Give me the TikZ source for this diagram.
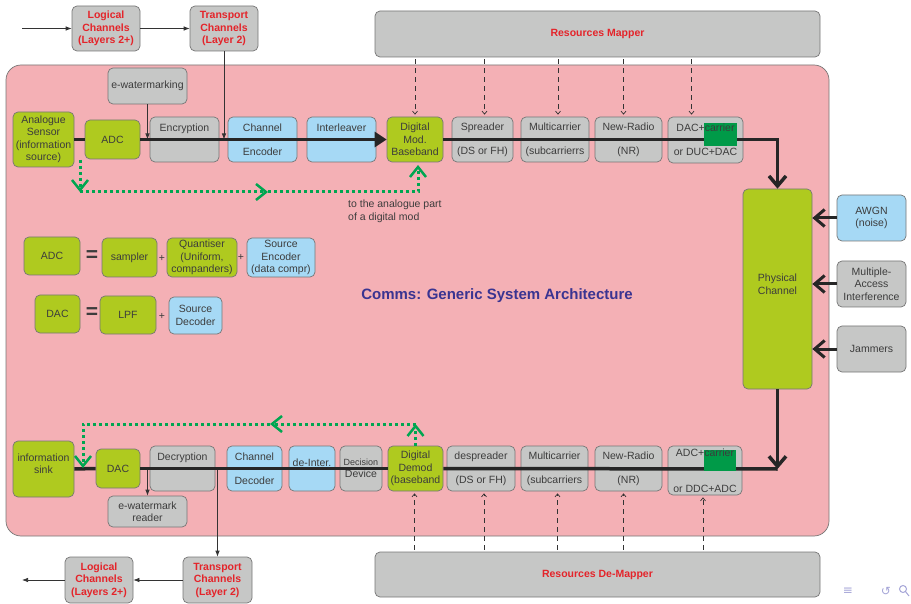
\documentclass[tikz,border=0pt]{standalone}
\usepackage{fontspec}
\setmainfont{Liberation Sans}
\newfontfamily\navfont{DejaVu Sans}
\usetikzlibrary{arrows.meta, positioning, calc}

\definecolor{pinkbg}{RGB}{244,176,181}
\definecolor{boxgray}{RGB}{198,199,198}
\definecolor{boxgreen}{RGB}{175,202,31}
\definecolor{boxblue}{RGB}{166,217,245}
\definecolor{edgegray}{RGB}{118,118,118}
\definecolor{txtgray}{RGB}{60,60,60}
\definecolor{labred}{RGB}{228,36,42}
\definecolor{titleblue}{RGB}{58,52,145}
\definecolor{hlgreen}{RGB}{0,154,72}
\definecolor{dotgreen}{RGB}{0,166,81}
\definecolor{navblue}{RGB}{165,165,215}

\begin{document}
\begin{tikzpicture}[x=1pt, y=-1pt, font=\fontsize{10.5}{12.5}\selectfont, text=txtgray,
	blk/.style={draw=edgegray, line width=0.7pt, rounded corners=5pt, align=center, inner sep=1pt},
	graybox/.style={blk, fill=boxgray},
	greenbox/.style={blk, fill=boxgreen},
	bluebox/.style={blk, fill=boxblue},
	redtxt/.style={text=labred, font=\fontsize{10.5}{12.5}\selectfont\bfseries},
	sig/.style={draw=black!85, line width=3.5pt},
	barb/.style={-{Straight Barb[length=10pt,width=17pt]}},
	wire/.style={draw=black!80, line width=0.7pt, -{Latex[length=6pt,width=4.5pt]}},
	res/.style={draw=black!80, line width=0.7pt, dash pattern=on 5pt off 4pt, shorten <=2pt, shorten >=2pt, -{Straight Barb[length=3pt,width=5pt]}},
	gdot/.style={draw=dotgreen, line width=3pt, dash pattern=on 3pt off 3pt},
	gtip/.style={-{Straight Barb[length=10pt,width=16pt,line width=2.5pt]}},
	bigeq/.style={font=\fontsize{21}{21}\selectfont\bfseries}]
	\useasboundingbox (0,0) rectangle (911,604);

	\node[draw=edgegray, fill=pinkbg, line width=0.7pt, rounded corners=15pt, minimum width=823, minimum height=471] at (417.5,300.5) (frame) {};

	\node[graybox, redtxt, minimum width=68, minimum height=45] at (106,28.5) (logtx) {Logical\\Channels\\(Layers 2+)};
	\node[graybox, redtxt, minimum width=68, minimum height=45] at (224,28.5) (trtx) {Transport\\Channels\\(Layer 2)};
	\node[graybox, redtxt, minimum width=445, minimum height=46] at (597.5,34) (mapper) {Resources Mapper};

	\node[greenbox, minimum width=61, minimum height=55] at (43.5,139.5) (sensor) {Analogue\\Sensor\\(information\\source)};
	\node[greenbox, minimum width=55, minimum height=39] at (112.5,139.5) (adc) {ADC};
	\node[graybox, minimum width=79, minimum height=36] at (147.5,86) (ewm) {e-watermarking};
	\node[graybox, minimum width=69, minimum height=45] at (184.5,139.5) (encr) {Encryption\\[11.5pt]\mbox{}};
	\node[bluebox, minimum width=69, minimum height=45] at (262.5,139.5) (chenc) {Channel\\[11.5pt]Encoder};
	\node[bluebox, minimum width=69, minimum height=45] at (341.5,139.5) (intl) {Interleaver\\[11.5pt]\mbox{}};
	\node[greenbox, minimum width=56, minimum height=45] at (415,139.5) (dmod) {Digital\\Mod.\\Baseband};
	\node[graybox, minimum width=61, minimum height=45] at (482.5,139.5) (spread) {Spreader\\[11.5pt](DS or FH)};
	\node[graybox, minimum width=68, minimum height=45] at (555,139.5) (mctx) {Multicarrier\\[11.5pt](subcarrierrs};
	\node[graybox, minimum width=67, minimum height=45] at (628.5,139.5) (nrtx) {New-Radio\\[11.5pt](NR)};
	\node[graybox, minimum width=75, minimum height=46] at (705.5,140) (dactx) {};

	\node[greenbox, minimum width=69, minimum height=200] at (777.5,289) (phys) {Physical\\Channel\\[-2.5pt]\mbox{}};
	\node[bluebox, minimum width=69, minimum height=46] at (871.5,218) (awgn) {AWGN\\(noise)};
	\node[graybox, minimum width=69, minimum height=46] at (871.5,284) (mai) {Multiple-\\Access\\Interference};
	\node[graybox, minimum width=69, minimum height=46] at (871.5,349) (jam) {Jammers};

	\node[greenbox, minimum width=56, minimum height=38] at (52,256) (adcdef) {ADC};
	\node[bigeq] at (92,256) (eqA) {=};
	\node[greenbox, minimum width=55, minimum height=39] at (129.5,257.5) (sampler) {sampler};
	\node at (162,258) (plA) {+};
	\node[greenbox, minimum width=70, minimum height=39] at (202,257.5) (quant) {Quantiser\\(Uniform,\\companders)};
	\node at (241,257.5) (plB) {+};
	\node[bluebox, minimum width=68, minimum height=39] at (281,257.5) (srcenc) {Source\\Encoder\\(data compr)};

	\node[greenbox, minimum width=45, minimum height=38] at (57.5,314) (dacdef) {DAC};
	\node[bigeq] at (92,313) (eqB) {=};
	\node[greenbox, minimum width=56, minimum height=38] at (128,315) (lpf) {LPF};
	\node at (162,316) (plC) {+};
	\node[bluebox, minimum width=53, minimum height=37] at (195.5,315.5) (srcdec) {Source\\Decoder};

	\node[font=\fontsize{15}{17}\selectfont\bfseries, text=titleblue] at (497,296) (title) {Comms: Generic System Architecture};
	\node[anchor=north west, align=left, inner sep=0pt] at (348,200) (note) {to the analogue part\\of a digital mod};

	\node[greenbox, minimum width=61, minimum height=56] at (43.5,469) (sink) {information\\sink\\[-2pt]\mbox{}};
	\node[greenbox, minimum width=44, minimum height=39] at (118,468.5) (dacrx) {DAC};
	\node[graybox, minimum width=65, minimum height=45] at (182.5,468.5) (decr) {Decryption\\[11.5pt]\mbox{}};
	\node[bluebox, minimum width=55, minimum height=45] at (254.5,468.5) (chdec) {Channel\\[11.5pt]Decoder};
	\node[bluebox, minimum width=46, minimum height=45] at (312,468.5) (deint) {de-Inter.\\[0pt]\mbox{}};
	\node[graybox, minimum width=42, minimum height=45] at (361,468.5) (decis) {{\fontsize{9}{11}\selectfont Decision}\\Device};
	\node[greenbox, minimum width=55, minimum height=45] at (415.5,468.5) (ddem) {Digital\\Demod\\(baseband};
	\node[graybox, minimum width=68, minimum height=45] at (481,468.5) (despr) {despreader\\[11.5pt](DS or FH)};
	\node[graybox, minimum width=67, minimum height=45] at (554.5,468.5) (mcrx) {Multicarrier\\[11.5pt](subcarriers};
	\node[graybox, minimum width=67, minimum height=45] at (628.5,468.5) (nrrx) {New-Radio\\[11.5pt](NR)};
	\node[graybox, minimum width=74, minimum height=49] at (705,470.5) (adcrx) {};
	\node[graybox, minimum width=79, minimum height=31] at (147.5,511.5) (ewr) {e-watermark\\reader};

	\node[graybox, redtxt, minimum width=69, minimum height=46] at (217.5,580) (trrx) {Transport\\Channels\\(Layer 2)};
	\node[graybox, redtxt, minimum width=68, minimum height=46] at (99,580) (logrx) {Logical\\Channels\\(Layers 2+)};
	\node[graybox, redtxt, minimum width=445, minimum height=45] at (597.5,574.5) (demapper) {Resources De-Mapper};

	\coordinate (srcin) at (22,28.5);
	\coordinate (sinkout) at (22,580);
	\draw[wire] (srcin) -- (logtx);
	\draw[wire] (logtx) -- (trtx);
	\draw[wire] (trtx.south) -- (trtx.south |- sensor.east);
	\draw[wire] (ewm.south) -- (ewm.south |- sensor.east);
	\draw[wire] (ewr.north |- sink.east) -- (ewr.north);
	\draw[wire] (trrx.north |- sink.east) -- (trrx.north);
	\draw[wire] (trrx) -- (logrx);
	\draw[wire] (logrx) -- (sinkout);

	\foreach \b/\s in {dmod/0, spread/2, mctx/3, nrtx/-5, dactx/-14}
		\draw[res] ([xshift=\s]\b.north |- mapper.south) -- ([xshift=\s]\b.north);
	\foreach \b/\s in {ddem/-1, despr/3, mcrx/3, nrrx/-5, adcrx/-2}
		\draw[res] ([xshift=\s]\b.south |- demapper.north) -- ([xshift=\s]\b.south);

	\draw[sig] (sensor.east) -- (adc.west);
	\draw[sig, -{Triangle[length=12pt,width=15pt]}] (adc.east) -- (dmod.west);
	\draw[sig, barb] (dmod.east) -| (phys.north);
	\draw[sig, barb] (phys.south) -- (phys.south |- sink.east) coordinate (rxcorner);
	\draw[sig] (rxcorner) -- (ddem.east);
	\draw[sig] (ddem.west) -- (dacrx.east);
	\draw[sig] (dacrx.west) -- (sink.east);
	\draw[draw=black!85, line width=3pt, barb] (awgn.west) -- (awgn.west -| phys.east);
	\draw[draw=black!85, line width=3pt, barb] (mai.west) -- (mai.west -| phys.east);
	\draw[draw=black!85, line width=3pt, barb] (jam.west) -- (jam.west -| phys.east);

	\fill[hlgreen] (704,123) rectangle (737,146);
	\node at (705.5,128) (dactop) {DAC+carrier};
	\node at (705.5,152) (dacbot) {or DUC+DAC};
	\fill[hlgreen] (704,450) rectangle (736,471);
	\node at (705,453) (adctop) {ADC+carrier};
	\node at (705,489) (adcbot) {or DDC+ADC};

	\coordinate (mdA) at (80,160);
	\coordinate (mdB) at (80,192);
	\coordinate (mdC) at (268,192);
	\coordinate (mdD) at (418,192);
	\coordinate (mdE) at (418,165);
	\draw[gdot, gtip] (mdA) -- (mdB);
	\draw[gdot, gtip] (mdB) -- (mdC);
	\draw[gdot, gtip] (mdC) -- (mdD) -- (mdE);

	\coordinate (ddB) at (415.5,424);
	\coordinate (ddC) at (270,424);
	\coordinate (ddD) at (83,424);
	\coordinate (ddE) at (83,468);
	\draw[gdot, gtip] (ddem.north) -- (ddB);
	\draw[gdot, gtip] (ddB) -- (ddC);
	\draw[gdot, gtip] (ddC) -- (ddD) -- (ddE);

	\node[text=navblue, font=\navfont\fontsize{12}{12}\selectfont] at (848,591) (navA) {≡};
	\node[text=navblue, font=\navfont\fontsize{12}{12}\selectfont] at (886,591) (navB) {↺};
	\draw[navblue, line width=1pt] (903,589) circle (3.5pt) (905.5,591.5) -- (909,596);
\end{tikzpicture}
\end{document}
